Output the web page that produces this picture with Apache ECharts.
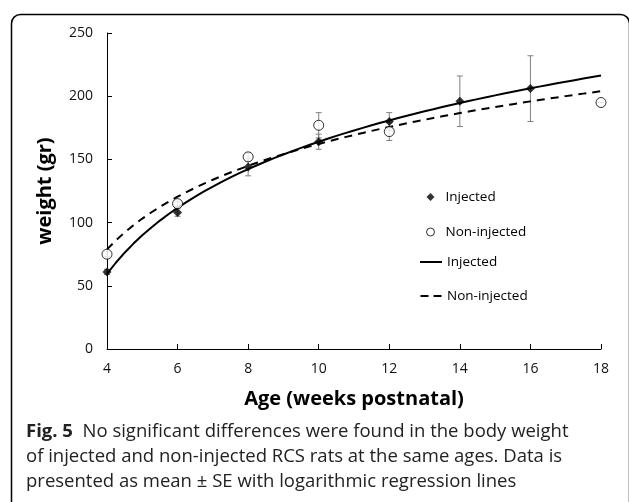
<!DOCTYPE html>
<html>
<head>
<meta charset="utf-8">
<script src="https://cdn.jsdelivr.net/npm/echarts@6/dist/echarts.min.js"></script>
<style>
  html, body { margin: 0; padding: 0; background: #fff; }
  #chart { width: 629px; height: 502px; }
</style>
</head>
<body>
<div id="chart"></div>
<script>
// ages (weeks postnatal)
const injAge = [4, 6, 8, 10, 12, 14, 16];
const injWeight = [61, 108, 144, 164, 180, 196, 206];
const injSE = [2, 3, 7, 6, 7, 20, 26];

const nonAge = [4, 6, 8, 10, 12, 18];
const nonWeight = [75, 115, 152, 177, 172, 195];
const nonSE = [2, 2, 3, 10, 7, 0];

const xTicks = [4, 6, 8, 10, 12, 14, 16, 18];
const yTicks = [0, 50, 100, 150, 200, 250];

// Excel-style log trendline, fitted on category index (1..8)
function idx(x) { return (x - xTicks[0]) / 2 + 1; }
function logFit(xs, ys) {
  const lx = xs.map(x => Math.log(idx(x)));
  const mx = lx.reduce((a, b) => a + b, 0) / lx.length;
  const my = ys.reduce((a, b) => a + b, 0) / ys.length;
  let sxx = 0, sxy = 0;
  lx.forEach((v, i) => { sxx += (v - mx) * (v - mx); sxy += (v - mx) * (ys[i] - my); });
  const b = sxy / sxx;
  return { a: my - b * mx, b: b };
}
function curve(fit) {
  const pts = [];
  for (let x = xTicks[0]; x <= xTicks[xTicks.length - 1] + 1e-9; x += 0.25) {
    pts.push([x, fit.a + fit.b * Math.log(idx(x))]);
  }
  return pts;
}
const injFit = logFit(injAge, injWeight);
const nonFit = logFit(nonAge, nonWeight);

function errData(xs, ys, se) {
  return xs.map((x, i) => [x, ys[i] - se[i], ys[i] + se[i]]);
}
function errRender(params, api) {
  const lo = api.coord([api.value(0), api.value(1)]);
  const hi = api.coord([api.value(0), api.value(2)]);
  const w = 3;
  const st = { stroke: '#808080', lineWidth: 1 };
  return {
    type: 'group',
    children: [
      { type: 'line', shape: { x1: lo[0], y1: lo[1], x2: hi[0], y2: hi[1] }, style: st },
      { type: 'line', shape: { x1: lo[0] - w, y1: lo[1], x2: lo[0] + w, y2: lo[1] }, style: st },
      { type: 'line', shape: { x1: hi[0] - w, y1: hi[1], x2: hi[0] + w, y2: hi[1] }, style: st }
    ]
  };
}

const chart = echarts.init(document.getElementById('chart'));
const tickFont = { color: '#111', fontSize: 14, fontFamily: 'Open Sans' };
const legendText = { fontSize: 13.5, color: '#000', fontFamily: 'Open Sans' };

chart.setOption({
  animation: false,
  grid: { left: 107, right: 28, top: 33, bottom: 153 },
  xAxis: {
    type: 'value', min: 4, max: 18, interval: 2,
    name: 'Age (weeks postnatal)', nameLocation: 'middle', nameGap: 40,
    nameTextStyle: { fontSize: 20, fontWeight: 'bold', color: '#000', fontFamily: 'Open Sans' },
    axisLine: { lineStyle: { color: '#000', width: 1 } },
    axisTick: { inside: true, length: 5, lineStyle: { color: '#000' } },
    axisLabel: Object.assign({ margin: 13 }, tickFont),
    splitLine: { show: false }
  },
  yAxis: {
    type: 'value', min: 0, max: 250, interval: 50,
    name: 'weight (gr)', nameLocation: 'middle', nameGap: 52, nameRotate: 90,
    nameTextStyle: { fontSize: 20, fontWeight: 'bold', color: '#000', fontFamily: 'Open Sans' },
    axisLine: { show: true, lineStyle: { color: '#000', width: 1 } },
    axisTick: { show: true, inside: true, length: 5, lineStyle: { color: '#000' } },
    axisLabel: Object.assign({ margin: 14 }, tickFont),
    splitLine: { show: false }
  },
  legend: [
    {
      orient: 'vertical', left: 426, top: 190, padding: 0,
      itemWidth: 8, itemHeight: 8, itemGap: 21,
      textStyle: Object.assign({ padding: [0, 0, 0, 6] }, legendText),
      data: [
        { name: 'Injected', icon: 'diamond', itemStyle: { color: '#000' } },
        { name: 'Non-injected', icon: 'circle', itemStyle: { color: '#fff', borderColor: '#000', borderWidth: 1 } }
      ]
    },
    {
      orient: 'vertical', left: 420, top: 255, padding: 0,
      itemWidth: 22, itemHeight: 2, itemGap: 20,
      textStyle: legendText,
      formatter: n => n.replace(' fit', ''),
      data: [
        { name: 'Injected fit', icon: 'rect', itemStyle: { color: '#000' } },
        { name: 'Non-injected fit', icon: 'path://M0,0h8v2h-8Z M13,0h8v2h-8Z', itemStyle: { color: '#000' } }
      ]
    }
  ],
  graphic: [
    {
      type: 'rect', left: 9, top: 12, silent: true,
      shape: { width: 618, height: 520, r: 9 },
      style: { fill: 'none', stroke: '#000', lineWidth: 1.5 }
    },
    {
      type: 'text', left: 26, top: 419, silent: true,
      style: {
        text: '{b|Fig. 5}  No significant differences were found in the body weight\nof injected and non-injected RCS rats at the same ages. Data is\npresented as mean \u00b1 SE with logarithmic regression lines',
        fontSize: 18.5, lineHeight: 25, fill: '#222', fontFamily: 'Open Sans',
        rich: { b: { fontWeight: 'bold', fontSize: 18.5, lineHeight: 25, fill: '#222', fontFamily: 'Open Sans' } }
      }
    }
  ],
  series: [
    {
      type: 'custom', name: 'errInj', renderItem: errRender,
      data: errData(injAge, injWeight, injSE), z: 2,
      encode: { x: 0, y: [1, 2] }
    },
    {
      type: 'custom', name: 'errNon', renderItem: errRender,
      data: errData(nonAge, nonWeight, nonSE), z: 2,
      encode: { x: 0, y: [1, 2] }
    },
    {
      name: 'Injected fit', type: 'line', symbol: 'none', z: 3,
      lineStyle: { color: '#000', width: 2 }, itemStyle: { color: '#000' },
      data: curve(injFit)
    },
    {
      name: 'Non-injected fit', type: 'line', symbol: 'none', z: 3,
      lineStyle: { color: '#000', width: 2, type: [8, 6] }, itemStyle: { color: '#000' },
      data: curve(nonFit)
    },
    {
      name: 'Injected', type: 'scatter', symbol: 'diamond', symbolSize: 9, z: 5,
      itemStyle: { color: '#000' },
      data: injAge.map((x, i) => [x, injWeight[i]])
    },
    {
      name: 'Non-injected', type: 'scatter', symbol: 'circle', symbolSize: 10, z: 4,
      itemStyle: { color: '#fff', borderColor: '#000', borderWidth: 1 },
      data: nonAge.map((x, i) => [x, nonWeight[i]])
    }
  ]
});
</script>
</body>
</html>
